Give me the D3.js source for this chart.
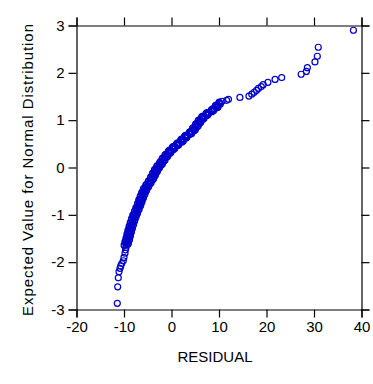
<!DOCTYPE html>
<html>
<head>
<meta charset="utf-8">
<script src="https://cdn.jsdelivr.net/npm/d3@7"></script>
<style>
  body { margin: 0; background: #fff; }
  svg text { font-family: Arial, "Liberation Sans", sans-serif; fill: #000; }
</style>
</head>
<body>
<div class="container"></div>
<script>
var width = 373, height = 384;

// DATA: residuals and their expected normal values
const residual = [
  -11.41, -11.33, -11.20, -11.05, -10.84, -10.69, -10.48, -10.15, -10.00, -9.79, -9.68, -9.58,
  -9.58, -9.47, -9.36, -9.24, -9.14, -9.04, -8.94, -8.84, -8.74, -8.62, -8.50, -8.38, -8.26, -8.14,
  -8.00, -7.85, -7.70, -7.55, -7.38, -7.21, -7.04, -6.88, -6.74, -6.59, -6.45, -6.31,
  -6.15, -5.99, -5.82, -5.66, -5.45, -5.20, -4.94, -4.69, -4.43, -4.17, -3.96, -3.77, -3.57,
  -3.36, -3.13, -2.90, -2.61, -2.29, -2.00, -1.75, -1.50, -1.20, -0.85, -0.50, -0.12, 0.29, 0.69,
  1.13, 1.67, 2.09, 2.47, 2.86, 3.32, 3.85, 4.33, 4.63, 4.93, 5.23, 5.51, 5.79,
  6.10, 6.48, 6.86, 7.32, 7.85, 8.45, 9.04, 9.40, 9.76, 10.12, 10.63,
  11.6, 12.0, 14.4, 16.3, 16.9, 17.4, 17.9, 18.3, 18.9, 19.3, 20.3, 21.8, 23.2,
  27.3, 28.4, 28.6, 30.2, 30.7, 30.9, 38.3
];
const expected = [
  -2.87, -2.52, -2.33, -2.20, -2.13, -2.08, -2.03, -1.97, -1.90, -1.81, -1.74, -1.69,
  -1.64, -1.60, -1.56, -1.52, -1.48, -1.44, -1.40, -1.36, -1.32, -1.28, -1.24, -1.20, -1.16, -1.12,
  -1.08, -1.04, -1.00, -0.96, -0.92, -0.88, -0.84, -0.80, -0.76, -0.72, -0.68, -0.64,
  -0.60, -0.56, -0.52, -0.48, -0.44, -0.40, -0.36, -0.32, -0.28, -0.24, -0.20, -0.16, -0.12,
  -0.08, -0.04, 0.00, 0.04, 0.08, 0.12, 0.16, 0.20, 0.24, 0.28, 0.32, 0.36, 0.40, 0.44,
  0.48, 0.52, 0.56, 0.60, 0.64, 0.68, 0.72, 0.76, 0.80, 0.84, 0.88, 0.92, 0.96,
  1.00, 1.04, 1.08, 1.12, 1.16, 1.20, 1.24, 1.28, 1.32, 1.36, 1.40,
  1.42, 1.44, 1.48, 1.51, 1.55, 1.59, 1.63, 1.67, 1.71, 1.75, 1.80, 1.86, 1.90,
  1.97, 2.03, 2.11, 2.23, 2.35, 2.54, 2.90
];
// overlapping points that thicken the dense band
const residualBand = [
  -9.18, -9.77, -8.95, -9.54, -8.74, -9.34, -8.54, -9.14, -8.33, -8.91, -8.09, -8.67, -7.85, -8.42,
  -7.58, -8.13, -7.28, -7.82, -6.95, -7.48, -6.61, -7.16, -6.32, -6.87, -6.03, -6.58, -5.72, -6.26,
  -5.39, -5.91, -4.98, -5.42, -4.47, -4.91, -3.95, -4.42, -3.52, -4.02, -3.12, -3.60, -2.67, -3.11,
  -2.10, -2.50, -1.53, -1.98, -1.00, -1.38, -0.33, -0.66, 0.44, 0.14, 1.26, 1.05, 2.23, 1.93,
  3.02, 2.74, 3.94, 3.74, 4.83, 4.43, 5.43, 5.02, 6.00, 5.60, 6.64, 6.32, 7.44, 7.24,
  8.50, 8.40, 9.57, 9.23, 10.29, 10.03
];
const expectedBand = [
  -1.62, -1.58, -1.54, -1.50, -1.46, -1.42, -1.38, -1.34, -1.30, -1.26, -1.22, -1.18, -1.14, -1.10,
  -1.06, -1.02, -0.98, -0.94, -0.90, -0.86, -0.82, -0.78, -0.74, -0.70, -0.66, -0.62, -0.58, -0.54,
  -0.50, -0.46, -0.42, -0.38, -0.34, -0.30, -0.26, -0.22, -0.18, -0.14, -0.10, -0.06, -0.02, 0.02,
  0.06, 0.10, 0.14, 0.18, 0.22, 0.26, 0.30, 0.34, 0.38, 0.42, 0.46, 0.50, 0.54, 0.58,
  0.62, 0.66, 0.70, 0.74, 0.78, 0.82, 0.86, 0.90, 0.94, 0.98, 1.02, 1.06, 1.10, 1.14,
  1.18, 1.22, 1.26, 1.30, 1.34, 1.38
];
const residualBand2 = [
  -9.98, -9.07, -9.76, -8.84, -9.54, -8.64, -9.34, -8.44, -9.14, -8.22, -8.90, -7.98, -8.66, -7.74,
  -8.40, -7.45, -8.10, -7.15, -7.78, -6.81, -7.44, -6.48, -7.14, -6.19, -6.85, -5.91, -6.55, -5.59,
  -6.22, -5.26, -5.85, -4.80, -5.34, -4.29, -4.83, -3.77, -4.36, -3.37, -3.97, -2.96, -3.53, -2.50,
  -3.01, -1.89, -2.40, -1.35, -1.90, -0.80, -1.25, -0.10, -0.52, 0.69, 0.29, 1.53, 1.27, 2.49,
  2.07, 3.26, 2.92, 4.25, 3.93, 5.03, 4.53, 5.63, 5.11, 6.19, 5.70, 6.88, 6.46, 7.72,
  7.45, 8.85, 8.64, 9.80, 9.36
];
const expectedBand2 = [
  -1.64, -1.60, -1.56, -1.52, -1.48, -1.44, -1.40, -1.36, -1.32, -1.28, -1.24, -1.20, -1.16, -1.12,
  -1.08, -1.04, -1.00, -0.96, -0.92, -0.88, -0.84, -0.80, -0.76, -0.72, -0.68, -0.64, -0.60, -0.56,
  -0.52, -0.48, -0.44, -0.40, -0.36, -0.32, -0.28, -0.24, -0.20, -0.16, -0.12, -0.08, -0.04, 0.00,
  0.04, 0.08, 0.12, 0.16, 0.20, 0.24, 0.28, 0.32, 0.36, 0.40, 0.44, 0.48, 0.52, 0.56,
  0.60, 0.64, 0.68, 0.72, 0.76, 0.80, 0.84, 0.88, 0.92, 0.96, 1.00, 1.04, 1.08, 1.12,
  1.16, 1.20, 1.24, 1.28, 1.32
];
const xTicks = [-20, -10, 0, 10, 20, 30, 40];
const yTicks = [-3, -2, -1, 0, 1, 2, 3];
const xTitle = 'RESIDUAL';
const yTitle = 'Expected Value for Normal Distribution';

const pointColor = '#0000cc';

// SCALES
var x = d3.scaleLinear().domain([-20, 40]).range([76.5, 361.5]);
var y = d3.scaleLinear().domain([-3, 3]).range([309.5, 25.5]);

var svg = d3.select('body div.container').append('svg')
    .attr('width', width)
    .attr('height', height);

// frame axes, ticks pointing out on all four sides
var tick = 8;
var fmt = function(d) { return String(d); };   // plain hyphen minus, like the original
svg.append('g').attr('transform', 'translate(0,309.5)')
    .call(d3.axisBottom(x).tickValues(xTicks).tickSize(tick).tickPadding(4).tickFormat(fmt));
svg.append('g').attr('transform', 'translate(0,25.5)')
    .call(d3.axisTop(x).tickValues(xTicks).tickSize(tick).tickFormat(''));
svg.append('g').attr('transform', 'translate(76.5,0)')
    .call(d3.axisLeft(y).tickValues(yTicks).tickSize(tick).tickPadding(4).tickFormat(fmt));
svg.append('g').attr('transform', 'translate(361.5,0)')
    .call(d3.axisRight(y).tickValues(yTicks).tickSize(tick).tickFormat(''));

svg.selectAll('.domain').attr('stroke', '#000').attr('stroke-width', 1.2)
    .attr('d', function() { return d3.select(this).attr('d').replace(/V-?\d+(\.\d+)?V/, 'V').replace(/H-?\d+(\.\d+)?H/, 'H'); });
svg.selectAll('.tick line').attr('stroke', '#000').attr('stroke-width', 1.2);
svg.selectAll('.tick text')
    .style('font-size', '15px')
    .style('font-family', 'Arial, "Liberation Sans", sans-serif')
    .attr('fill', '#000');

// titles
svg.append('text')
    .attr('x', 215).attr('y', 361.5)
    .attr('text-anchor', 'middle')
    .style('font-size', '15px')
    .text(xTitle);
svg.append('text')
    .attr('transform', 'translate(33,170) rotate(-90)')
    .attr('text-anchor', 'middle')
    .attr('textLength', 292)
    .attr('lengthAdjust', 'spacing')
    .style('font-size', '15px')
    .text(yTitle);

// points
function pairs(xs, ys) { return xs.map(function(v, i) { return [v, ys[i]]; }); }
var pts = pairs(residual, expected)
    .concat(pairs(residualBand, expectedBand))
    .concat(pairs(residualBand2, expectedBand2));

svg.append('g').selectAll('circle')
    .data(pts)
    .enter().append('circle')
        .attr('cx', function(d) { return x(d[0]); })
        .attr('cy', function(d) { return y(d[1]); })
        .attr('r', 3)
        .attr('fill', 'none')
        .attr('stroke', pointColor)
        .attr('stroke-width', 1.2);
</script>
</body>
</html>
